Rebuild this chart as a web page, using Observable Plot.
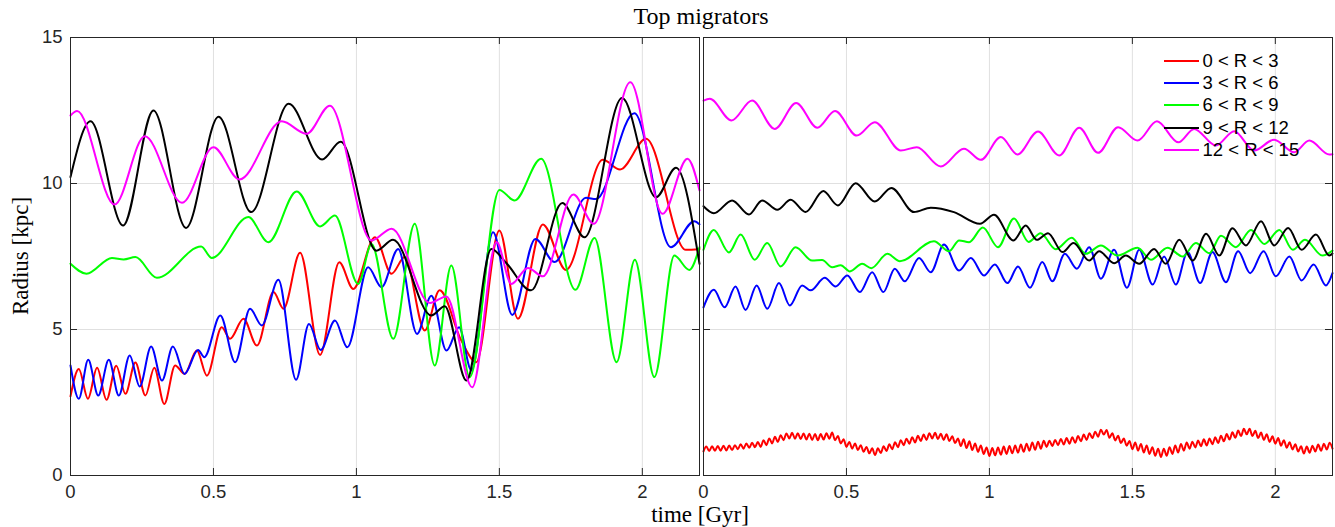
<!DOCTYPE html>
<html>
<head>
<meta charset="utf-8">
<script src="https://cdn.jsdelivr.net/npm/d3@7"></script>
<script src="https://cdn.jsdelivr.net/npm/@observablehq/plot@0.6"></script>
<style>
  html, body { margin: 0; padding: 0; background: #fff; }
  #wrap { position: relative; width: 1335px; height: 527px; overflow: hidden; }
  #chart { position: absolute; left: 0; top: 0; }
  .serif { position: absolute; font-family: "Liberation Serif", "Times New Roman", serif; color: #000; white-space: nowrap; text-align: center; }
  #legend { position: absolute; left: 1164px; top: 49.5px; font-family: "Liberation Sans", Arial, sans-serif; font-size: 18.5px; color: #000; }
  #legend .row { display: flex; align-items: center; height: 22.3px; }
  #legend .sw { display: inline-block; width: 35px; height: 2px; }
  #legend .lab { margin-left: 3.5px; line-height: 22px; }
</style>
</head>
<body>
<div id="wrap">
  <div id="chart"></div>
  <div class="serif" id="title" style="left:70px;width:1262px;top:2px;line-height:28px;font-size:24px;">Top migrators</div>
  <div class="serif" id="xlabel" style="left:70px;width:1260px;top:502px;line-height:26px;font-size:23px;">time [Gyr]</div>
  <div class="serif" id="ylabel" style="left:-129px;width:300px;top:243px;line-height:26px;font-size:23px;transform:rotate(-90deg);">Radius [kpc]</div>
  <div id="legend"></div>
</div>
<script>
// ---------- data ----------
const seriesNames = ["0 < R < 3", "3 < R < 6", "6 < R < 9", "9 < R < 12", "12 < R < 15"];
const seriesColors = ["#ff0000", "#0000ff", "#00ff00", "#000000", "#ff00ff"];
const panels = ["left", "right"];
const xTicks = [0, 0.5, 1, 1.5, 2];
const yTicks = [0, 5, 10, 15];

// left panel: turning points [time Gyr, radius kpc]
const leftRed = [[0,2.71],[0.029,3.65],[0.061,2.63],[0.093,3.69],[0.126,2.59],[0.16,3.76],[0.192,2.8],[0.227,3.87],[0.262,2.74],[0.293,3.69],[0.328,2.45],[0.366,3.77],[0.399,3.48],[0.442,4.28],[0.477,3.42],[0.529,5.08],[0.558,4.68],[0.605,5.37],[0.652,4.45],[0.71,6.28],[0.745,5.71],[0.803,7.63],[0.873,4.13],[0.94,7.3],[0.989,6.39],[1.065,8.16],[1.123,6.91],[1.169,7.48],[1.239,4.97],[1.291,6.34],[1.367,4.62],[1.419,3.88],[1.5,8.39],[1.565,5.37],[1.652,8.6],[1.733,7.04],[1.862,10.81],[1.922,10.48],[2.013,11.53],[2.152,7.73],[2.2,7.76]];
const leftBlue = [[0,3.77],[0.029,2.63],[0.062,3.96],[0.097,2.74],[0.134,3.96],[0.169,2.74],[0.207,4.11],[0.242,3.05],[0.282,4.42],[0.32,3.25],[0.358,4.42],[0.399,3.48],[0.446,4.3],[0.468,4.05],[0.524,5.48],[0.576,3.88],[0.628,5.71],[0.669,5.14],[0.727,6.7],[0.789,3.28],[0.834,5.19],[0.875,4.3],[0.925,5.31],[0.968,4.39],[1.041,7.13],[1.088,6.45],[1.146,7.76],[1.212,4.85],[1.262,6.16],[1.315,4.28],[1.359,5.08],[1.402,3.6],[1.478,8.33],[1.545,5.5],[1.626,8.1],[1.693,7.31],[1.803,9.51],[1.838,9.47],[1.972,12.41],[2.1,7.82],[2.182,8.71],[2.2,8.6]];
const leftGreen = [[0,7.25],[0.056,6.91],[0.145,7.45],[0.186,7.4],[0.227,7.48],[0.302,6.77],[0.457,7.84],[0.494,7.45],[0.622,8.85],[0.692,7.99],[0.791,9.73],[0.873,8.53],[0.925,8.9],[1.006,6.56],[1.053,7.93],[1.129,4.68],[1.204,8.62],[1.274,3.77],[1.332,7.19],[1.396,3.37],[1.5,9.78],[1.553,9.42],[1.646,10.85],[1.766,6.36],[1.833,8.13],[1.91,3.88],[1.974,7.39],[2.042,3.37],[2.112,7.53],[2.164,7.04],[2.2,7.82]];
const leftBlack = [[0,10.22],[0.07,12.13],[0.184,8.56],[0.29,12.5],[0.404,8.48],[0.518,12.29],[0.632,9.02],[0.763,12.73],[0.88,10.82],[0.945,11.43],[1.07,7.7],[1.128,8.07],[1.262,5.48],[1.309,5.8],[1.385,3.25],[1.472,7.76],[1.524,7.28],[1.611,6.34],[1.72,9.33],[1.798,8.16],[1.929,12.93],[2.048,9.53],[2.118,10.54],[2.2,7.25]];
const leftMagenta = [[0,12.33],[0.023,12.48],[0.154,9.28],[0.26,11.62],[0.39,9.34],[0.5,11.24],[0.591,10.14],[0.739,12.13],[0.826,11.7],[0.907,12.66],[1.053,8.05],[1.123,8.45],[1.257,5.91],[1.315,6.13],[1.405,3.02],[1.49,8.0],[1.542,6.56],[1.6,7.11],[1.652,6.82],[1.759,9.62],[1.83,8.62],[1.958,13.47],[2.071,8.96],[2.158,10.85],[2.2,9.76]];

// right panel: turning points [time Gyr, radius kpc]
const rightBlue = [[0,5.76],[0.036,6.36],[0.074,5.76],[0.112,6.47],[0.147,5.67],[0.186,6.51],[0.223,5.71],[0.264,6.59],[0.302,5.82],[0.345,6.51],[0.375,6.34],[0.424,6.77],[0.462,6.47],[0.503,6.85],[0.547,6.28],[0.59,6.96],[0.629,6.28],[0.669,7.08],[0.704,6.65],[0.754,7.45],[0.795,6.96],[0.841,7.91],[0.894,7.02],[0.935,7.45],[0.981,6.85],[1.019,7.23],[1.063,6.59],[1.1,7.16],[1.142,6.43],[1.185,7.31],[1.22,6.65],[1.264,7.59],[1.306,7.08],[1.349,7.82],[1.39,6.74],[1.436,7.73],[1.481,6.43],[1.524,7.73],[1.571,6.54],[1.611,7.5],[1.652,6.54],[1.693,7.65],[1.737,6.59],[1.78,7.65],[1.827,6.62],[1.87,7.68],[1.912,6.93],[1.959,7.68],[2.002,6.82],[2.049,7.5],[2.092,6.68],[2.134,7.23],[2.177,6.51],[2.2,6.93]];
const rightGreen = [[0,7.73],[0.036,8.41],[0.089,7.64],[0.13,8.25],[0.179,7.39],[0.223,7.96],[0.27,7.16],[0.322,7.82],[0.38,7.36],[0.415,7.38],[0.45,7.13],[0.48,7.2],[0.512,6.99],[0.555,7.25],[0.587,7.1],[0.643,7.59],[0.687,7.34],[0.806,8.02],[0.859,7.68],[0.894,8.05],[0.929,7.99],[0.977,8.49],[1.03,7.82],[1.086,8.8],[1.137,8.0],[1.179,8.3],[1.232,7.75],[1.288,8.14],[1.337,7.59],[1.39,7.88],[1.448,7.53],[1.518,7.8],[1.565,7.39],[1.623,7.8],[1.676,7.5],[1.722,7.96],[1.769,7.61],[1.81,8.21],[1.862,7.82],[1.915,8.41],[1.962,7.93],[2.014,8.41],[2.061,7.73],[2.104,8.07],[2.165,7.53],[2.2,7.7]];
const rightBlack = [[0,9.22],[0.036,8.98],[0.1,9.42],[0.159,8.94],[0.205,9.42],[0.258,9.1],[0.305,9.44],[0.357,9.02],[0.419,9.74],[0.47,9.25],[0.532,10.01],[0.599,9.38],[0.657,9.85],[0.736,9.02],[0.795,9.17],[0.876,9.02],[0.967,8.62],[1.016,8.93],[1.084,8.05],[1.127,8.56],[1.166,8.07],[1.205,8.3],[1.256,7.65],[1.294,7.96],[1.349,7.36],[1.384,7.68],[1.436,7.27],[1.477,7.53],[1.524,7.25],[1.576,7.76],[1.617,7.25],[1.664,8.07],[1.711,7.36],[1.758,8.28],[1.804,7.53],[1.85,8.47],[1.897,7.88],[1.95,8.71],[1.996,7.88],[2.045,8.48],[2.092,7.73],[2.142,8.25],[2.189,7.53],[2.2,7.6]];
const rightMagenta = [[0,12.84],[0.022,12.9],[0.098,12.16],[0.17,12.84],[0.249,11.87],[0.324,12.76],[0.398,11.91],[0.46,12.48],[0.536,11.64],[0.599,12.1],[0.69,11.13],[0.746,11.24],[0.83,10.58],[0.911,11.19],[0.97,10.81],[1.04,11.59],[1.098,10.99],[1.17,11.78],[1.244,10.96],[1.314,11.91],[1.38,11.05],[1.45,11.93],[1.518,11.47],[1.586,12.13],[1.661,11.41],[1.716,11.87],[1.792,11.3],[1.856,11.79],[1.926,11.13],[1.996,11.5],[2.066,11.07],[2.119,11.47],[2.189,10.99],[2.2,11.0]];

// right panel red: radius sampled every 0.01 Gyr (fast zig-zag)
const rightRedStep = 0.01;
const rightRed = [0.83,0.99,0.84,1.00,0.85,1.01,0.85,1.02,0.86,1.03,0.87,
1.04,0.90,1.07,0.92,1.10,0.95,1.12,0.97,1.15,0.98,
1.21,1.04,1.27,1.10,1.33,1.15,1.38,1.21,1.44,1.27,
1.46,1.26,1.45,1.25,1.44,1.23,1.43,1.22,1.42,1.21,
1.42,1.23,1.45,1.26,1.47,1.21,1.35,1.10,1.24,0.98,
1.15,0.92,1.10,0.87,1.04,0.81,0.98,0.76,0.93,0.70,
0.93,0.77,1.00,0.84,1.07,0.90,1.14,0.97,1.21,1.04,
1.26,1.09,1.31,1.13,1.36,1.18,1.40,1.22,1.45,1.27,
1.46,1.25,1.43,1.22,1.41,1.18,1.34,1.11,1.27,1.01,
1.24,0.94,1.17,0.87,1.10,0.81,1.03,0.74,0.96,0.67,
0.94,0.69,0.96,0.71,0.99,0.74,1.01,0.76,1.03,0.78,
1.06,0.81,1.09,0.85,1.13,0.88,1.16,0.92,1.19,0.98,
1.19,1.01,1.22,1.04,1.25,1.06,1.28,1.09,1.31,1.12,
1.35,1.17,1.40,1.22,1.45,1.28,1.50,1.33,1.57,1.40,
1.56,1.29,1.45,1.20,1.36,1.11,1.27,1.02,1.18,0.90,
1.13,0.85,1.08,0.79,1.03,0.74,0.97,0.68,0.92,0.63,
0.92,0.68,0.97,0.74,1.03,0.79,1.08,0.85,1.13,0.92,
1.16,0.96,1.20,1.00,1.24,1.03,1.27,1.07,1.31,1.11,
1.36,1.17,1.42,1.23,1.48,1.29,1.54,1.35,1.60,1.41,
1.60,1.35,1.53,1.28,1.47,1.22,1.41,1.15,1.34,1.09,
1.28,1.02,1.21,0.95,1.14,0.89,1.07,0.82,1.00,0.75,
0.99,0.78,1.02,0.82,1.06,0.85,1.09,0.89,1.12,0.92];

// ---------- table ----------
const rows = [];
function addPairs(panel, name, pairs) { for (const [t, r] of pairs) rows.push({panel, series: name, t, r}); }
addPairs("left", seriesNames[0], leftRed);
addPairs("left", seriesNames[1], leftBlue);
addPairs("left", seriesNames[2], leftGreen);
addPairs("left", seriesNames[3], leftBlack);
addPairs("left", seriesNames[4], leftMagenta);
rightRed.forEach((r, i) => rows.push({panel: "right", series: seriesNames[0], t: +(i * rightRedStep).toFixed(3), r}));
addPairs("right", seriesNames[1], rightBlue);
addPairs("right", seriesNames[2], rightGreen);
addPairs("right", seriesNames[3], rightBlack);
addPairs("right", seriesNames[4], rightMagenta);

// ---------- layout ----------
const W = 1335, H = 527;
const mT = 37, mB = 52, mL = 70, mR = 3, gap = 4;
const innerW = W - mL - mR;
const padInner = 2 * gap / (innerW + gap);
const bandW = (innerW - gap) / 2;
const facetH = H - mT - mB;
const tickLen = 7;
const axisColor = "#262626";

const chart = Plot.plot({
  width: W, height: H,
  marginTop: mT, marginBottom: mB, marginLeft: mL, marginRight: mR,
  style: {background: "#fff", fontFamily: "'Liberation Sans', Arial, sans-serif", fontSize: "18.5px", color: axisColor},
  x: {domain: [0, 2.2], label: null},
  y: {domain: [0, 15], label: null},
  fx: {domain: panels, paddingInner: padInner, paddingOuter: 0, axis: null, label: null},
  color: {domain: seriesNames, range: seriesColors},
  marks: [
    Plot.gridX(xTicks, {stroke: "#e0e0e0", strokeOpacity: 1, strokeWidth: 1}),
    Plot.gridY(yTicks, {stroke: "#e0e0e0", strokeOpacity: 1, strokeWidth: 1}),
    Plot.line(rows, {x: "t", y: "r", z: "series", stroke: "series", fx: "panel", curve: "monotone-x", strokeWidth: 2}),
    Plot.ruleX(xTicks, {x: d => d, insetTop: facetH - tickLen, stroke: axisColor}),
    Plot.ruleX(xTicks, {x: d => d, insetBottom: facetH - tickLen, stroke: axisColor}),
    Plot.ruleY(yTicks, {y: d => d, insetRight: bandW - tickLen, stroke: axisColor}),
    Plot.ruleY(yTicks, {y: d => d, insetLeft: bandW - tickLen, stroke: axisColor}),
    Plot.frame({stroke: axisColor, strokeWidth: 1}),
    Plot.axisX(xTicks, {tickSize: 0, tickPadding: 9, tickFormat: d => String(d), label: null, fill: axisColor}),
    Plot.axisY(yTicks, {anchor: "left", tickSize: 0, tickPadding: 8, tickFormat: d => String(d), label: null, fill: axisColor})
  ]
});
document.getElementById("chart").appendChild(chart);

// legend (HTML, no box)
const legend = document.getElementById("legend");
seriesNames.forEach((name, i) => {
  const row = document.createElement("div");
  row.className = "row";
  const sw = document.createElement("span");
  sw.className = "sw";
  sw.style.background = seriesColors[i];
  const lab = document.createElement("span");
  lab.className = "lab";
  lab.textContent = name;
  row.appendChild(sw); row.appendChild(lab);
  legend.appendChild(row);
});
</script>
</body>
</html>
